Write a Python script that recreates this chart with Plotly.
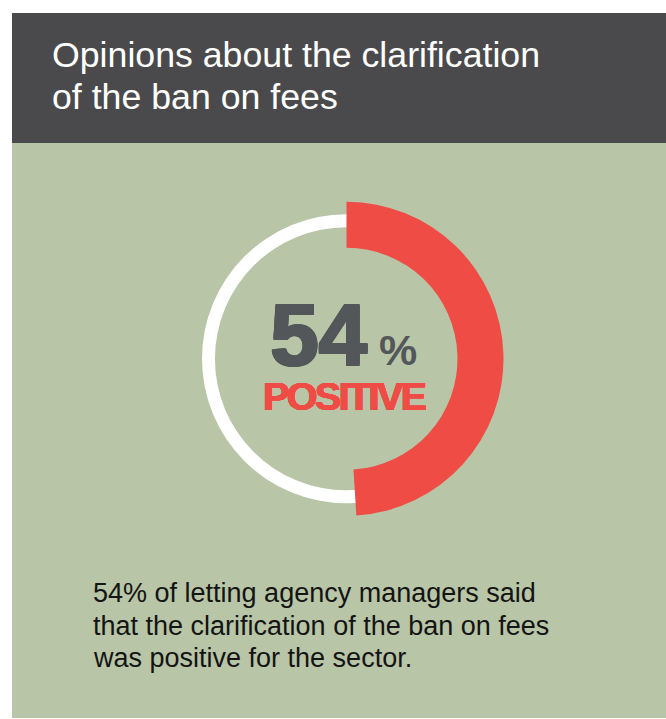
import plotly.graph_objects as go

# ---- data ----
title_lines = ["Opinions about the clarification", "of the ban on fees"]
headline_value = "54"
headline_unit = "%"
headline_label = "POSITIVE"
arc_labels = ["Positive", "Other"]
arc_values = [49, 51]          # share of the red arc as drawn
ring_values = [100]            # full white guide ring
body_lines = [
    "54% of letting agency managers said",
    "that the clarification of the ban on fees",
    "was positive for the sector.",
]

W, H = 666, 719
RED = "#EF4C45"
GREEN = "#B8C5A6"
HEADER = "#4A4A4C"
DIGITS = "#53575A"


def px_x(x):
    return x / W


def px_y(y):
    return 1 - y / H


fig = go.Figure()

cx, cy = 346.5, 358.8
r_red_out, r_red_in = 157.0, 111.0
r_w_out, r_w_in = 144.5, 131.5

fig.add_trace(go.Pie(
    values=ring_values, labels=["Ring"],
    marker=dict(colors=["#FFFFFF"], line=dict(width=0)),
    hole=r_w_in / r_w_out, sort=False, textinfo="none", hoverinfo="skip",
    showlegend=False,
    domain=dict(x=[px_x(cx - r_w_out), px_x(cx + r_w_out)],
                y=[px_y(cy + r_w_out), px_y(cy - r_w_out)]),
))
fig.add_trace(go.Pie(
    values=arc_values, labels=arc_labels,
    marker=dict(colors=[RED, "rgba(0,0,0,0)"], line=dict(width=0)),
    hole=r_red_in / r_red_out, sort=False, direction="clockwise", rotation=0,
    textinfo="none", hoverinfo="skip", showlegend=False,
    domain=dict(x=[px_x(cx - r_red_out), px_x(cx + r_red_out)],
                y=[px_y(cy + r_red_out), px_y(cy - r_red_out)]),
))

shapes = [
    dict(type="rect", xref="paper", yref="paper", x0=px_x(12), x1=1,
         y0=px_y(143), y1=px_y(13), fillcolor=HEADER, line=dict(width=0), layer="below"),
    dict(type="rect", xref="paper", yref="paper", x0=px_x(12), x1=1,
         y0=px_y(718), y1=px_y(143), fillcolor=GREEN, line=dict(width=0), layer="below"),
]

annotations = []
for i, line in enumerate(title_lines):
    annotations.append(dict(
        text=line, xref="paper", yref="paper", x=px_x(50), y=px_y(55 + 41.5 * i),
        xanchor="left", yanchor="middle", showarrow=False,
        font=dict(family="Liberation Sans, Arial, sans-serif", size=35.7, color="#FFFFFF"),
    ))
for i, line in enumerate(body_lines):
    annotations.append(dict(
        text=line, xref="paper", yref="paper", x=px_x(91), y=px_y(593 + 32.5 * i),
        xanchor="left", yanchor="middle", showarrow=False,
        font=dict(family="Liberation Sans, Arial, sans-serif", size=27, color="#141414"),
    ))


def heavy(c, d):
    return ", ".join(f"{a}px {b}px 0 {c}" for a, b in
                     [(d, 0), (-d, 0), (0, d), (0, -d), (d, d), (-d, -d), (d, -d), (-d, d)])


center_text = (
    f'<span style="font-size:87px;color:{DIGITS};text-shadow:{heavy(DIGITS, 1.2)}">'
    f'{headline_value}</span>'
    f'<span style="font-size:43px;color:{DIGITS}"> {headline_unit}</span>'
    "<br>"
    f'<span style="font-size:39.5px;color:{RED};letter-spacing:-2.6px;'
    f'text-shadow:{heavy(RED, 0.45)}">{headline_label}</span>'
)
annotations.append(dict(
    text=center_text, xref="paper", yref="paper", x=px_x(344), y=px_y(352),
    xanchor="center", yanchor="middle", align="center", showarrow=False,
    font=dict(family="Liberation Sans, Arial, sans-serif", size=34.6, color=DIGITS, weight=700),
))

fig.update_layout(
    width=W, height=H, margin=dict(l=0, r=0, t=0, b=0),
    paper_bgcolor="#FFFFFF", plot_bgcolor="#FFFFFF",
    shapes=shapes, annotations=annotations, showlegend=False,
)

fig.write_html(
    "out.html",
    config={"displayModeBar": False},
    post_script="document.body.style.margin='0';document.body.style.overflow='hidden';",
)
